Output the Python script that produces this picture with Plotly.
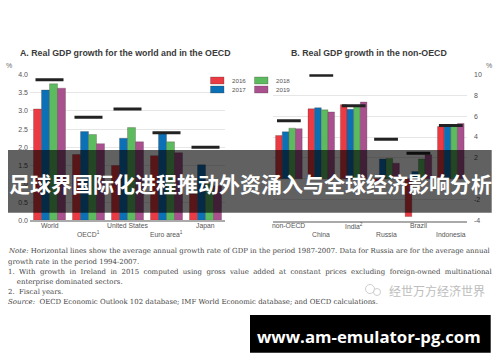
import plotly.graph_objects as go

W, H = 500, 362

years = ["2016", "2017", "2018", "2019"]
colors = ["#ea3a43", "#0b70b5", "#5cba5f", "#a9508f"]

cats_a = ["World", "OECD<sup>1</sup>", "United States", "Euro area<sup>1</sup>", "Japan"]
a_2016 = [3.05, 1.80, 1.50, 1.77, 0.72]
a_2017 = [3.57, 2.43, 2.25, 2.37, 1.52]
a_2018 = [3.74, 2.35, 2.54, 2.15, 1.00]
a_2019 = [3.62, 2.10, 2.15, 1.85, 0.95]
a_avg = [3.85, 2.82, 3.05, 2.40, 2.00]

cats_b = ["non-OECD", "China", "India<sup>2</sup>", "Russia", "Brazil", "Indonesia"]
b_2016 = [4.15, 6.70, 7.10, -0.20, -3.60, 5.00]
b_2017 = [4.50, 6.80, 6.65, 1.90, 0.70, 5.05]
b_2018 = [4.85, 6.60, 7.00, 1.95, 1.90, 5.10]
b_2019 = [4.80, 6.40, 7.35, 1.50, 2.30, 5.30]
b_avg = [5.55, 9.90, 7.00, 3.80, 2.45, 5.10]

title_a = "A. Real GDP growth for the world and in the OECD"
title_b = "B. Real GDP growth in the non-OECD"
banner = "足球界国际化进程推动外资涌入与全球经济影响分析"
site = "www.am-emulator-pg.com"
watermark = "经世万方经济世界"
sp = "\u00a0"
notes = [
    ("<i>Note:</i> Horizontal lines show the average annual growth rate of GDP in the period 1987-2007. Data for Russia are for the average annual", 6, 251),
    ("growth rate in the period 1994-2007.", 6, 261.5),
    (f"1.{sp}{sp}With{sp}{sp}growth{sp}{sp}in{sp}{sp}Ireland{sp}{sp}in{sp}{sp}2015{sp}{sp}computed{sp}{sp}using{sp}{sp}gross{sp}{sp}value{sp}{sp}added{sp}{sp}at{sp}{sp}constant{sp}{sp}prices{sp}{sp}excluding{sp}{sp}foreign-owned{sp}{sp}multinational", 6, 271.5),
    (f"{sp}{sp}{sp}{sp}enterprise dominated sectors.", 6, 282),
    (f"2.{sp}{sp}Fiscal years.", 6, 292),
    (f"<i>Source:</i>{sp}{sp}OECD Economic Outlook 102 database; IMF World Economic database; and OECD calculations.", 6, 302),
]

SANS = "Liberation Sans"
SERIF = "DejaVu Serif"
CJK = "Noto Sans CJK SC"
TXT = "#555555"

fig = go.Figure()
series_a = [a_2016, a_2017, a_2018, a_2019]
series_b = [b_2016, b_2017, b_2018, b_2019]
for yr, c, va, vb in zip(years, colors, series_a, series_b):
    line = dict(color="rgba(70,50,50,0.45)", width=0.6)
    fig.add_bar(x=cats_a, y=va, name=yr, marker=dict(color=c, line=line), xaxis="x", yaxis="y", showlegend=False)
    fig.add_bar(x=cats_b, y=vb, name=yr, marker=dict(color=c, line=line), xaxis="x2", yaxis="y2", showlegend=False)

fig.add_scatter(x=cats_a, y=a_avg, mode="markers", xaxis="x", yaxis="y", showlegend=False,
                marker=dict(symbol="line-ew", size=20, line=dict(color="#222222", width=3)))
fig.add_scatter(x=cats_b, y=b_avg, mode="markers", xaxis="x2", yaxis="y2", showlegend=False,
                marker=dict(symbol="line-ew", size=17, line=dict(color="#222222", width=3)))


def px(x):
    return x / W


def py(y):
    return 1 - y / H


shapes = []
ann = []


def text(s, x, y, size, color=TXT, family=SANS, anchor="left", bold=False):
    ann.append(dict(text=f"<b>{s}</b>" if bold else s, x=px(x), y=py(y), xref="paper", yref="paper",
                    showarrow=False, xanchor=anchor, yanchor="middle",
                    font=dict(size=size, color=color, family=family)))


def rect(x0, y0, x1, y1, fill, lw=0, lc=None):
    shapes.append(dict(type="rect", xref="paper", yref="paper", x0=px(x0), x1=px(x1), y0=py(y0), y1=py(y1),
                       fillcolor=fill, line=dict(width=lw, color=lc or fill), layer="above"))


# staggered category labels
for cats, xref in [(cats_a, "x"), (cats_b, "x2")]:
    for i, c in enumerate(cats):
        ann.append(dict(text=c, x=c, xref=xref, y=py(225.5 if i % 2 == 0 else 234), yref="paper",
                        showarrow=False, xanchor="center", yanchor="middle",
                        font=dict(size=6.8, color="#555555", family=SANS)))

# legend swatches
for (x, y, c, yr) in [(210.5, 77, colors[0], years[0]), (210.5, 86, colors[1], years[1]),
                      (254.5, 77, colors[2], years[2]), (254.5, 86, colors[3], years[3])]:
    rect(x, y, x + 13.5, y + 7, c, 0.6, "rgba(70,50,50,0.45)")
    text(yr, x + 19.5, y + 3.5, 6.2, "#555555")

text(title_a, 125.5, 53, 8.8, "#3a3a3a", bold=True, anchor="center")
text(title_b, 369, 53, 8.8, "#3a3a3a", bold=True, anchor="center")
text("%", 9, 65, 7, "#666666", anchor="center")
text("%", 489, 65, 7, "#666666", anchor="center")

for s, x, y in notes:
    text(s, x, y, 6.95, "#444444", family=SERIF)

# watermark
for (cx, cy, r) in [(370, 289, 4.5), (377, 292, 3.5)]:
    shapes.append(dict(type="circle", xref="paper", yref="paper", x0=px(cx - r), x1=px(cx + r),
                       y0=py(cy + r), y1=py(cy - r), line=dict(color="#cfcfcf", width=1),
                       fillcolor="rgba(255,255,255,0.6)", layer="above"))
text(watermark, 387, 290.5, 12, "#bdbdbd", family=CJK)

# banner
rect(8, 150, 491.7, 212.7, "rgba(0,0,0,0.62)")
text(banner, 250, 183.5, 21, "#ffffff", family=CJK, anchor="center", bold=True)

# site footer
rect(250, 315, 490.7, 352.7, "#000000")
text(site, 369, 336, 16.8, "#ffffff", family="Open Sans", anchor="center", bold=True)

grid = "#e6e6e6"
tick_font = dict(size=7, color="#555555", family=SANS)
fig.update_layout(
    width=W, height=H, margin=dict(l=0, r=0, t=0, b=0), autosize=False,
    paper_bgcolor="white", plot_bgcolor="white",
    barmode="group", bargap=0.18, bargroupgap=0,
    shapes=shapes, annotations=ann,
    xaxis=dict(domain=[px(30), px(225)], anchor="y", type="category", categoryorder="array",
               categoryarray=cats_a, range=[-0.5, 4.5], showticklabels=False, ticks="", showgrid=False,
               showline=True, linecolor="#aaaaaa", linewidth=1.5, automargin=False),
    yaxis=dict(domain=[py(220.3), py(74.3)], anchor="x", range=[0, 4], tickvals=[0, .5, 1, 1.5, 2, 2.5, 3, 3.5, 4],
               ticktext=["0.0", "0.5", "1.0", "1.5", "2.0", "2.5", "3.0", "3.5", "4.0"], ticklabelstandoff=1,
               tickfont=tick_font, gridcolor=grid, gridwidth=1, zeroline=False, ticks="", automargin=False),
    xaxis2=dict(domain=[px(272.7), px(467)], anchor="y2", type="category", categoryorder="array",
                categoryarray=cats_b, range=[-0.5, 5.5], showticklabels=False, ticks="", showgrid=False,
                showline=True, linecolor="#aaaaaa", linewidth=1.5, automargin=False),
    yaxis2=dict(domain=[py(220.7), py(74.3)], anchor="x2", side="right", range=[-4, 10], tickvals=list(range(-4, 11, 2)),
                ticktext=["-4", "-2", "0", "2", "4", "6", "8", "10"], ticklabelstandoff=6,
                tickfont=tick_font, gridcolor=grid, gridwidth=1, zeroline=False, ticks="", automargin=False),
)

fig.write_html("out.html", post_script="document.body.style.margin='0';", config={"displayModeBar": False})
